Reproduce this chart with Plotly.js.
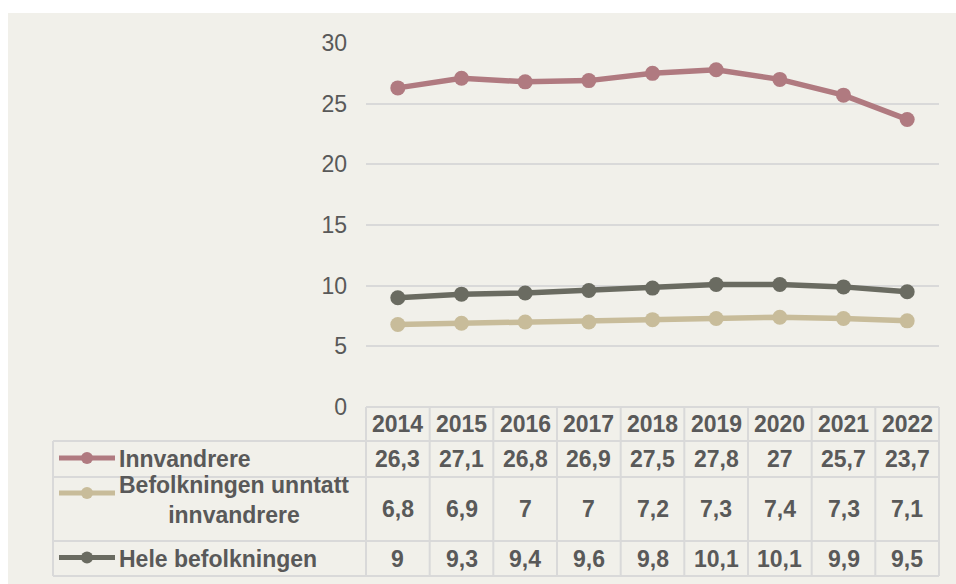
<!DOCTYPE html>
<html>
<head>
<meta charset="utf-8">
<script src="https://cdn.plot.ly/plotly-3.0.1.min.js"></script>
<style>html,body{margin:0;padding:0;background:#fff;}#chart{width:956px;height:584px;}</style>
</head>
<body>
<div id="chart"></div>
<script>
const years = ['2014','2015','2016','2017','2018','2019','2020','2021','2022'];
const innvandrere = [26.3,27.1,26.8,26.9,27.5,27.8,27,25.7,23.7];
const unntatt = [6.8,6.9,7,7,7.2,7.3,7.4,7.3,7.1];
const hele = [9,9.3,9.4,9.6,9.8,10.1,10.1,9.9,9.5];
const seriesNames = ['Innvandrere','Befolkningen unntatt<br>innvandrere','Hele befolkningen'];
const seriesColors = ['#B07A80','#C8BC9A','#6A6B61'];
const yTicks = [0,5,10,15,20,25,30];

const seriesValues = [innvandrere, unntatt, hele];

// pixel geometry helpers
const W = 956, H = 584;
const L = 366, R = 939, T = 43, B = 407;
const px = x => (x - L) / (R - L);
const py = y => (B - y) / (B - T);

const textColor = '#595959';
const borderColor = '#D9D9D9';
const font = 'Arial, "Liberation Sans", sans-serif';
const fs = 23;

const traces = seriesValues.map((vals, i) => ({
  type: 'scatter', mode: 'lines+markers',
  x: years, y: vals,
  line: {color: seriesColors[i], width: 5.5},
  marker: {color: seriesColors[i], size: 15},
  showlegend: false, hoverinfo: 'skip', cliponaxis: false
}));

const shapes = [];
const annotations = [];
// background panel
shapes.push({type:'rect', xref:'paper', yref:'paper', x0:px(8), x1:px(956), y0:py(13), y1:py(584), fillcolor:'#F1F0EA', line:{width:0}, layer:'below'});

// table rows
const rowEdges = [407, 441, 477, 541, 576];
const rowY = [[441,477],[477,541],[541,576]];
const lw = 2;
shapes.push({type:'line', xref:'paper', yref:'paper', x0:px(366), x1:px(939), y0:py(407), y1:py(407), line:{color:borderColor, width:lw}});
for (let k = 1; k < rowEdges.length; k++) {
  shapes.push({type:'line', xref:'paper', yref:'paper', x0:px(53), x1:px(939), y0:py(rowEdges[k]), y1:py(rowEdges[k]), line:{color:borderColor, width:lw}});
}
shapes.push({type:'line', xref:'paper', yref:'paper', x0:px(53), x1:px(53), y0:py(441), y1:py(576), line:{color:borderColor, width:lw}});
shapes.push({type:'line', xref:'paper', yref:'paper', x0:px(366), x1:px(366), y0:py(407), y1:py(576), line:{color:borderColor, width:lw}});
shapes.push({type:'line', xref:'paper', yref:'paper', x0:px(939), x1:px(939), y0:py(407), y1:py(576), line:{color:borderColor, width:lw}});
for (let c = 0; c < years.length - 1; c++) {
  shapes.push({type:'line', xref:'x', yref:'paper', x0:c+0.5, x1:c+0.5, y0:py(407), y1:py(576), line:{color:borderColor, width:lw}});
}

// header years
years.forEach((yr, c) => {
  annotations.push({xref:'x', yref:'paper', x:c, y:py(424), text:'<b>'+yr+'</b>', showarrow:false, xanchor:'center', yanchor:'middle', font:{family:font, size:fs, color:textColor}});
});
// values
const fmt = v => String(v).replace('.', ',');
seriesValues.forEach((vals, i) => {
  const yc = (rowY[i][0] + rowY[i][1]) / 2;
  vals.forEach((v, c) => {
    annotations.push({xref:'x', yref:'paper', x:c, y:py(yc), text:'<b>'+fmt(v)+'</b>', showarrow:false, xanchor:'center', yanchor:'middle', font:{family:font, size:fs, color:textColor}});
  });
  const symY = i === 1 ? 493 : yc - 1;
  shapes.push({type:'line', xref:'paper', yref:'paper', x0:px(59), x1:px(115), y0:py(symY), y1:py(symY), line:{color:seriesColors[i], width:5}});
  shapes.push({type:'circle', xref:'paper', yref:'paper', x0:px(81), x1:px(93), y0:py(symY-6), y1:py(symY+6), fillcolor:seriesColors[i], line:{width:0}});
  annotations.push({xref:'paper', yref:'paper', x:px(117), y:py(i === 1 ? 500 : yc), text:'<b>'+seriesNames[i]+'</b>', showarrow:false, xanchor:'left', yanchor:'middle', align:'center', font:{family:font, size:fs, color:textColor}});
});

const layout = {
  width: W, height: H,
  margin: {l: L, r: W - R, t: T, b: H - B, pad: 0},
  paper_bgcolor: '#FFFFFF',
  plot_bgcolor: 'rgba(0,0,0,0)',
  showlegend: false,
  xaxis: {type:'category', range:[-0.5, years.length - 0.5], showticklabels:false, showgrid:false, zeroline:false, showline:false, ticks:'', fixedrange:true},
  yaxis: {range:[0,30], tickvals:yTicks, ticktext:yTicks.map(String), showgrid:true, gridcolor:borderColor, gridwidth:2, zeroline:false, showline:false, ticks:'', ticklabelstandoff:18,
          tickfont:{family:font, size:23, color:textColor}, fixedrange:true},
  shapes: shapes,
  annotations: annotations
};

Plotly.newPlot('chart', traces, layout, {displayModeBar:false, staticPlot:true});
</script>
</body>
</html>
